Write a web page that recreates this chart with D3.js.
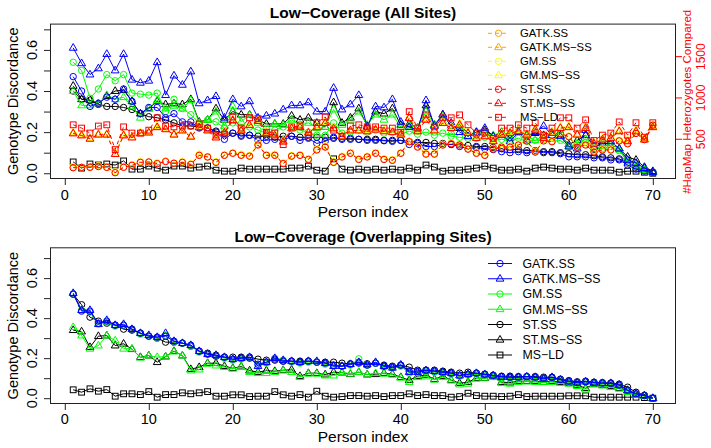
<!DOCTYPE html>
<html>
<head>
<meta charset="utf-8">
<script src="https://cdn.jsdelivr.net/npm/d3@7"></script>
<style>
  body { margin: 0; background: #fff; }
  text { font-family: "Liberation Sans", Arial, Helvetica, sans-serif; }
</style>
</head>
<body>
<div id="chart"></div>
<script>
// person index 1..70
const persons = d3.range(1, 71);

const seriesNames = ["GATK.SS", "GATK.MS−SS", "GM.SS", "GM.MS−SS", "ST.SS", "ST.MS−SS", "MS−LD"];
const yTicks = [0, 0.1, 0.2, 0.3, 0.4, 0.5, 0.6, 0.7];
const yTickLabels = [0, 0.2, 0.4, 0.6];
const xTicks = [0, 10, 20, 30, 40, 50, 60, 70];
const rightTicks = [500, 1000, 1500];

// ---- top panel: discordance, all sites ----
const topGATK_SS = [0.47,0.40,0.325,0.34,0.37,0.36,0.41,0.35,0.29,0.32,0.32,0.27,0.29,0.25,0.25,0.22,0.22,0.20,0.165,0.195,0.18,0.185,0.16,0.16,0.165,0.16,0.18,0.16,0.17,0.145,0.155,0.175,0.165,0.165,0.165,0.16,0.16,0.158,0.155,0.16,0.14,0.145,0.13,0.13,0.14,0.14,0.13,0.12,0.125,0.12,0.115,0.105,0.10,0.105,0.10,0.105,0.10,0.10,0.095,0.08,0.08,0.08,0.075,0.075,0.065,0.065,0.04,0.02,0.01,0.005];
const topGATK_MSSS = [0.61,0.535,0.48,0.51,0.58,0.50,0.58,0.455,0.44,0.45,0.54,0.38,0.475,0.43,0.495,0.34,0.355,0.375,0.27,0.36,0.325,0.35,0.27,0.28,0.29,0.31,0.33,0.33,0.345,0.30,0.30,0.415,0.31,0.335,0.38,0.225,0.325,0.32,0.36,0.25,0.225,0.21,0.355,0.23,0.285,0.245,0.20,0.18,0.20,0.22,0.18,0.185,0.155,0.20,0.16,0.20,0.23,0.185,0.18,0.13,0.12,0.21,0.13,0.155,0.155,0.12,0.065,0.05,0.025,0.005];
const topGM_SS = [0.54,0.50,0.365,0.41,0.48,0.45,0.48,0.39,0.385,0.38,0.39,0.30,0.36,0.315,0.285,0.245,0.26,0.25,0.22,0.245,0.22,0.225,0.21,0.195,0.21,0.225,0.22,0.21,0.20,0.185,0.185,0.245,0.195,0.20,0.21,0.20,0.21,0.195,0.20,0.19,0.205,0.19,0.20,0.185,0.195,0.18,0.175,0.17,0.17,0.175,0.16,0.165,0.16,0.17,0.155,0.16,0.165,0.155,0.16,0.13,0.135,0.15,0.12,0.12,0.13,0.11,0.06,0.04,0.02,0.005];
const topGM_MSSS = [0.40,0.33,0.33,0.34,0.38,0.36,0.37,0.325,0.27,0.315,0.355,0.315,0.325,0.315,0.355,0.245,0.26,0.30,0.23,0.325,0.25,0.285,0.245,0.225,0.24,0.235,0.26,0.235,0.245,0.22,0.225,0.31,0.235,0.26,0.30,0.235,0.285,0.26,0.285,0.225,0.235,0.22,0.30,0.235,0.275,0.20,0.225,0.195,0.195,0.195,0.185,0.20,0.18,0.20,0.18,0.16,0.18,0.185,0.195,0.13,0.145,0.165,0.12,0.13,0.145,0.115,0.05,0.03,0.015,0.005];
const topST_SS = [0.40,0.36,0.355,0.335,0.325,0.325,0.32,0.31,0.29,0.275,0.27,0.26,0.245,0.23,0.23,0.225,0.22,0.205,0.195,0.195,0.185,0.185,0.18,0.18,0.175,0.18,0.18,0.175,0.175,0.175,0.175,0.17,0.17,0.17,0.165,0.165,0.165,0.16,0.16,0.16,0.155,0.15,0.15,0.145,0.145,0.14,0.14,0.135,0.13,0.13,0.125,0.12,0.115,0.115,0.11,0.11,0.105,0.105,0.10,0.095,0.09,0.09,0.085,0.08,0.075,0.07,0.05,0.03,0.015,0.005];
const topST_MSSS = [0.425,0.36,0.355,0.34,0.375,0.40,0.405,0.35,0.29,0.315,0.35,0.335,0.34,0.335,0.36,0.25,0.26,0.315,0.26,0.30,0.285,0.285,0.26,0.24,0.24,0.24,0.28,0.26,0.27,0.245,0.225,0.345,0.245,0.27,0.315,0.23,0.30,0.29,0.315,0.235,0.24,0.22,0.33,0.235,0.285,0.23,0.22,0.18,0.20,0.21,0.18,0.20,0.17,0.21,0.185,0.195,0.185,0.20,0.185,0.14,0.16,0.185,0.13,0.145,0.145,0.12,0.08,0.065,0.03,0.01];
const topMS_LD = [0.055,0.025,0.045,0.04,0.045,0.04,0.06,0.02,0.02,0.035,0.025,0.015,0.035,0.035,0.025,0.03,0.035,0.015,0.01,0.01,0.025,0.02,0.02,0.02,0.02,0.02,0.025,0.025,0.035,0.015,0.01,0.07,0.02,0.015,0.02,0.015,0.02,0.015,0.02,0.015,0.025,0.015,0.04,0.03,0.01,0.015,0.015,0.02,0.025,0.035,0.025,0.015,0.015,0.02,0.01,0.025,0.03,0.025,0.02,0.02,0.015,0.025,0.015,0.015,0.015,0.005,0.01,0.01,0.005,0.0];

// ---- top panel: #HapMap heterozygotes compared (right axis) ----
const hetGATK_SS = [160,160,165,175,160,100,165,190,225,225,210,235,210,225,200,310,290,225,310,335,310,300,435,310,310,210,300,310,260,375,410,225,290,335,260,290,335,260,250,335,475,410,325,325,435,450,435,385,335,310,385,410,410,435,485,350,485,475,575,535,410,435,350,375,375,485,450,575,500,675];
const hetGATK_MSSS = [575,550,510,560,560,325,550,525,575,585,650,625,560,610,535,650,610,525,585,735,610,675,725,575,550,475,635,650,585,650,700,635,535,610,610,600,620,600,590,560,760,600,740,610,700,640,680,580,520,540,480,560,580,600,560,620,520,580,640,650,560,640,450,500,520,600,480,600,500,650];
const hetGM_SS = [170,165,160,180,165,105,170,195,230,220,215,240,215,230,205,320,285,230,315,340,320,305,460,315,320,215,305,315,265,380,420,230,295,340,265,295,340,265,255,340,480,415,330,330,440,455,440,390,340,315,390,415,415,440,490,355,490,480,580,540,415,440,355,380,380,490,455,580,505,680];
const hetGM_MSSS = [585,560,515,570,565,335,560,530,580,595,660,630,570,615,545,660,620,530,590,745,620,680,735,585,560,485,640,660,590,660,710,640,545,620,615,610,630,610,600,570,770,610,750,620,710,650,690,590,530,550,490,570,590,610,570,630,530,590,650,660,570,650,460,510,530,610,490,610,510,660];
const hetST_SS = [155,160,160,170,160,95,160,185,220,225,205,230,210,220,195,305,285,220,305,330,305,295,430,305,305,205,295,305,255,370,405,220,285,330,255,285,330,255,245,330,470,405,320,320,430,445,430,380,330,305,380,405,405,430,480,345,480,470,570,530,405,430,345,370,370,480,445,570,495,670];
const hetST_MSSS = [570,545,505,555,555,320,545,520,570,580,645,620,555,605,530,645,605,520,580,730,605,670,720,570,545,470,630,645,580,645,695,630,530,605,605,595,615,595,585,555,755,595,735,605,695,635,675,575,515,535,475,555,575,595,555,615,515,575,635,645,555,635,445,495,515,595,475,595,495,645];
const hetMS_LD = [675,635,575,660,675,375,650,575,575,610,760,660,650,660,660,685,635,550,560,770,635,760,750,585,575,435,650,660,550,700,770,610,535,660,675,650,650,635,635,585,835,635,795,650,760,760,795,675,575,585,510,635,635,675,635,700,550,635,760,760,635,735,485,550,575,710,550,700,525,700];

// ---- bottom panel: discordance, overlapping sites ----
const botGATK_SS = [0.52,0.435,0.435,0.375,0.385,0.365,0.365,0.345,0.325,0.31,0.305,0.31,0.285,0.275,0.265,0.235,0.22,0.21,0.205,0.195,0.2,0.2,0.17,0.18,0.195,0.185,0.185,0.18,0.185,0.18,0.175,0.165,0.16,0.17,0.175,0.165,0.175,0.16,0.155,0.165,0.135,0.135,0.14,0.135,0.13,0.125,0.115,0.12,0.125,0.12,0.113,0.108,0.105,0.105,0.108,0.105,0.1,0.103,0.093,0.085,0.078,0.082,0.078,0.075,0.073,0.065,0.04,0.022,0.013,0.0];
const botGATK_MSSS = [0.525,0.44,0.44,0.37,0.39,0.365,0.37,0.345,0.325,0.315,0.305,0.325,0.285,0.275,0.265,0.235,0.22,0.215,0.205,0.195,0.20,0.205,0.16,0.18,0.20,0.19,0.185,0.18,0.185,0.185,0.175,0.16,0.16,0.17,0.18,0.168,0.18,0.16,0.152,0.167,0.13,0.13,0.138,0.135,0.13,0.125,0.113,0.12,0.125,0.118,0.113,0.105,0.105,0.105,0.108,0.105,0.097,0.105,0.092,0.083,0.077,0.083,0.077,0.075,0.075,0.067,0.038,0.022,0.013,0.0];
const botGM_SS = [0.52,0.44,0.43,0.37,0.38,0.36,0.365,0.345,0.32,0.31,0.3,0.315,0.28,0.275,0.26,0.23,0.22,0.21,0.2,0.19,0.195,0.2,0.165,0.175,0.2,0.19,0.18,0.175,0.18,0.18,0.17,0.16,0.16,0.165,0.197,0.165,0.175,0.155,0.15,0.16,0.125,0.13,0.135,0.13,0.125,0.12,0.11,0.115,0.12,0.115,0.11,0.1,0.1,0.1,0.105,0.1,0.095,0.1,0.09,0.08,0.075,0.08,0.075,0.072,0.07,0.063,0.035,0.02,0.012,0.0];
const botGM_MSSS = [0.355,0.313,0.247,0.263,0.313,0.288,0.247,0.247,0.202,0.213,0.205,0.208,0.233,0.213,0.138,0.143,0.172,0.163,0.155,0.147,0.155,0.13,0.125,0.125,0.13,0.138,0.13,0.105,0.122,0.122,0.113,0.113,0.13,0.122,0.13,0.118,0.125,0.122,0.117,0.102,0.08,0.105,0.108,0.092,0.105,0.088,0.068,0.072,0.097,0.102,0.105,0.075,0.072,0.08,0.083,0.08,0.08,0.08,0.075,0.072,0.06,0.043,0.068,0.063,0.055,0.047,0.03,0.018,0.01,0.0];
const botST_SS = [0.52,0.467,0.405,0.385,0.375,0.365,0.345,0.34,0.325,0.31,0.30,0.28,0.28,0.275,0.26,0.235,0.225,0.215,0.205,0.205,0.205,0.205,0.195,0.19,0.19,0.185,0.185,0.185,0.185,0.18,0.18,0.18,0.175,0.172,0.18,0.172,0.175,0.165,0.16,0.165,0.155,0.14,0.14,0.14,0.135,0.13,0.125,0.13,0.125,0.12,0.115,0.11,0.11,0.108,0.108,0.108,0.105,0.105,0.095,0.088,0.082,0.085,0.08,0.078,0.076,0.07,0.055,0.03,0.015,0.0];
const botST_MSSS = [0.34,0.333,0.255,0.31,0.313,0.263,0.272,0.245,0.205,0.213,0.18,0.208,0.235,0.213,0.145,0.155,0.175,0.175,0.16,0.15,0.158,0.138,0.13,0.138,0.135,0.14,0.142,0.11,0.125,0.125,0.118,0.13,0.128,0.12,0.13,0.118,0.12,0.125,0.12,0.105,0.09,0.11,0.115,0.095,0.11,0.09,0.075,0.08,0.1,0.1,0.11,0.08,0.078,0.085,0.085,0.085,0.08,0.085,0.08,0.075,0.065,0.05,0.07,0.065,0.06,0.05,0.04,0.02,0.012,0.0];
const botMS_LD = [0.042,0.03,0.047,0.035,0.043,0.01,0.022,0.022,0.018,0.033,0.005,0.018,0.018,0.027,0.022,0.027,0.033,0.01,0.01,0.017,0.017,0.008,0.01,0.01,0.033,0.017,0.01,0.018,0.005,0.035,0.01,0.005,0.008,0.013,0.013,0.01,0.013,0.008,0.013,0.013,0.022,0.013,0.018,0.013,0.013,0.005,0.008,0.025,0.013,0.01,0.01,0.008,0.01,0.018,0.008,0.01,0.01,0.01,0.01,0.012,0.012,0.012,0.005,0.005,0.005,0.005,0.005,0.005,0.003,0.0];

const W = 711, H = 448;

const svg = d3.select("#chart").append("svg")
  .attr("width", W).attr("height", H)
  .style("background", "#fff");

// R-like markers: pch 1 circle, 2 triangle, 0 square
function marker(g, shape, x, y, color) {
  if (shape === "circle") {
    g.append("circle").attr("cx", x).attr("cy", y).attr("r", 3.2)
      .attr("fill", "none").attr("stroke", color).attr("stroke-width", 1);
  } else if (shape === "triangle") {
    g.append("path")
      .attr("d", `M${x},${y - 4.3}L${x + 3.9},${y + 2.4}L${x - 3.9},${y + 2.4}Z`)
      .attr("fill", "none").attr("stroke", color).attr("stroke-width", 1);
  } else {
    g.append("rect").attr("x", x - 2.9).attr("y", y - 2.9)
      .attr("width", 5.8).attr("height", 5.8)
      .attr("fill", "none").attr("stroke", color).attr("stroke-width", 1);
  }
}

function drawSeries(g, x, y, values, color, shape, dash) {
  const line = d3.line().x((d, i) => x(persons[i])).y(d => y(d));
  g.append("path").datum(values)
    .attr("d", line)
    .attr("fill", "none")
    .attr("stroke", color)
    .attr("stroke-width", 1)
    .attr("stroke-dasharray", dash || null);
  values.forEach((v, i) => marker(g, shape, x(persons[i]), y(v), color));
}

function drawPanel(opt) {
  const { left, right, top, bottom, ymax, title, titleY, tickY, labY } = opt;
  const x = d3.scaleLinear().domain([1 - 69 * 0.04, 70 + 69 * 0.04]).range([left, right]);
  const ext = ymax * 0.04;
  const y = d3.scaleLinear().domain([-ext, ymax + ext]).range([bottom, top]);
  const g = svg.append("g");

  // axes (R style, ticks outward)
  const xAxis = g.append("g").attr("transform", `translate(0,${bottom})`)
    .call(d3.axisBottom(x).tickValues(xTicks).tickSize(6).tickFormat(""));
  xAxis.select(".domain").remove();
  xAxis.selectAll("line").attr("stroke", "#222");
  g.selectAll(null).data(xTicks).enter().append("text")
    .attr("x", d => x(d)).attr("y", tickY)
    .attr("text-anchor", "middle").attr("font-size", 14.5).text(d => d);

  const yAxis = g.append("g").attr("transform", `translate(${left},0)`)
    .call(d3.axisLeft(y).tickValues(yTicks).tickSize(6).tickFormat(""));
  yAxis.select(".domain").remove();
  yAxis.selectAll("line").attr("stroke", "#222");
  yTickLabels.forEach(v => {
    g.append("text")
      .attr("transform", `translate(37,${y(v)}) rotate(-90)`)
      .attr("text-anchor", "middle").attr("font-size", 14.5)
      .text(d3.format(".1f")(v));
  });

  g.append("text")
    .attr("transform", `translate(17.5,${(top + bottom) / 2}) rotate(-90)`)
    .attr("text-anchor", "middle").attr("font-size", 14.5)
    .text("Genotype Discordance");
  g.append("text").attr("x", (left + right) / 2).attr("y", labY)
    .attr("text-anchor", "middle").attr("font-size", 15.5).text("Person index");
  g.append("text").attr("x", (left + right) / 2).attr("y", titleY)
    .attr("text-anchor", "middle").attr("font-size", 15.5)
    .attr("font-weight", "bold").text(title);

  return { g, x, y };
}

function drawBox(g, p) {
  g.append("rect").attr("x", p.left + 0.5).attr("y", p.top + 0.5)
    .attr("width", p.right - p.left - 1).attr("height", p.bottom - p.top - 1)
    .attr("fill", "none").attr("stroke", "#222").attr("stroke-width", 1);
}

// ================= TOP PANEL =================
const P1 = { left: 50, right: 676, top: 23.6, bottom: 179, ymax: 0.7,
  title: "Low−Coverage (All Sites)", titleY: 17.5, tickY: 199.5, labY: 216.5 };
const t = drawPanel(P1);

const topSeries = [
  [topMS_LD, "#000000", "square"],
  [topST_MSSS, "#000000", "triangle"],
  [topST_SS, "#000000", "circle"],
  [topGM_MSSS, "#00FF00", "triangle"],
  [topGM_SS, "#00FF00", "circle"],
  [topGATK_MSSS, "#0000FF", "triangle"],
  [topGATK_SS, "#0000FF", "circle"]
];
topSeries.forEach(s => drawSeries(t.g, t.x, t.y, s[0], s[1], s[2]));

// second y axis: heterozygote counts
const yR = d3.scaleLinear().domain([19, 1900]).range([P1.bottom, P1.top]);
const hetSeries = [
  [hetGATK_SS, "#FFA500", "circle"],
  [hetGATK_MSSS, "#FFA500", "triangle"],
  [hetGM_SS, "#FFFF00", "circle"],
  [hetGM_MSSS, "#FFFF00", "triangle"],
  [hetST_SS, "#FF0000", "circle"],
  [hetST_MSSS, "#FF0000", "triangle"],
  [hetMS_LD, "#FF0000", "square"]
];
hetSeries.forEach(s => drawSeries(t.g, t.x, yR, s[0], s[1], s[2], "4,3"));
drawBox(t.g, P1);

rightTicks.forEach(v => {
  t.g.append("line").attr("x1", P1.right).attr("x2", P1.right + 6)
    .attr("y1", yR(v)).attr("y2", yR(v)).attr("stroke", "#FF0000");
  t.g.append("text")
    .attr("transform", `translate(705,${yR(v)}) rotate(-90)`)
    .attr("text-anchor", "middle").attr("font-size", 12).attr("fill", "#FF0000")
    .text(v);
});
t.g.append("text")
  .attr("transform", `translate(691,${(P1.top + P1.bottom) / 2 + 0.5}) rotate(-90)`)
  .attr("text-anchor", "middle").attr("font-size", 11.5).attr("fill", "#FF0000")
  .text("#HapMap Heterozygotes Compared");

// top legend (dashed, count colours)
const legTopColors = ["#FFA500", "#FFA500", "#FFFF00", "#FFFF00", "#FF0000", "#FF0000", "#FF0000"];
const legShapes = ["circle", "triangle", "circle", "triangle", "circle", "triangle", "square"];
seriesNames.forEach((name, i) => {
  const cy = 33.3 + i * 14;
  t.g.append("line").attr("x1", 488).attr("x2", 509).attr("y1", cy).attr("y2", cy)
    .attr("stroke", legTopColors[i]).attr("stroke-dasharray", "4,3");
  marker(t.g, legShapes[i], 498.5, cy, legTopColors[i]);
  t.g.append("text").attr("x", 520).attr("y", cy + 4).attr("font-size", 11.3).text(name);
});

// ================= BOTTOM PANEL =================
const P2 = { left: 50, right: 676, top: 247.3, bottom: 404, ymax: 0.725,
  title: "Low−Coverage (Overlapping Sites)", titleY: 241.5, tickY: 423.5, labY: 441.5 };
const b = drawPanel(P2);
const botSeries = [
  [botMS_LD, "#000000", "square"],
  [botST_MSSS, "#000000", "triangle"],
  [botST_SS, "#000000", "circle"],
  [botGM_MSSS, "#00FF00", "triangle"],
  [botGM_SS, "#00FF00", "circle"],
  [botGATK_MSSS, "#0000FF", "triangle"],
  [botGATK_SS, "#0000FF", "circle"]
];
botSeries.forEach(s => drawSeries(b.g, b.x, b.y, s[0], s[1], s[2]));
drawBox(b.g, P2);

const legBotColors = ["#0000FF", "#0000FF", "#00FF00", "#00FF00", "#000000", "#000000", "#000000"];
seriesNames.forEach((name, i) => {
  const cy = 263.5 + i * 15.25;
  b.g.append("line").attr("x1", 488).attr("x2", 512).attr("y1", cy).attr("y2", cy)
    .attr("stroke", legBotColors[i]);
  marker(b.g, legShapes[i], 500, cy, legBotColors[i]);
  b.g.append("text").attr("x", 522.5).attr("y", cy + 4.4).attr("font-size", 12.3).text(name);
});
</script>
</body>
</html>
